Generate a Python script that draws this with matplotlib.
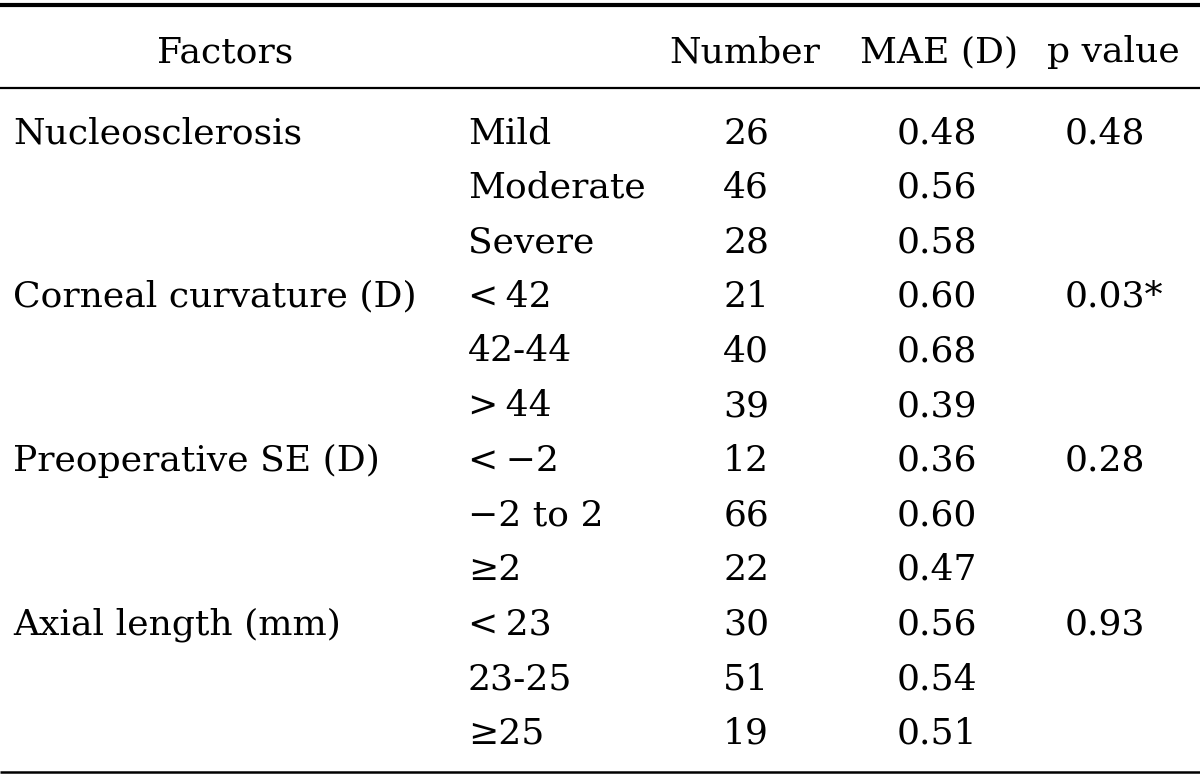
import matplotlib.pyplot as plt

# Table content
factors = ["Nucleosclerosis", "Corneal curvature (D)", "Preoperative SE (D)", "Axial length (mm)"]
levels = [["Mild", "Moderate", "Severe"],
          ["<\u200942", "42-44", ">\u200944"],
          ["<\u2009\u22122", "\u22122 to 2", "\u22652"],
          ["<\u200923", "23-25", "\u226525"]]
numbers = [[26, 46, 28], [21, 40, 39], [12, 66, 22], [30, 51, 19]]
mae = [[0.48, 0.56, 0.58], [0.60, 0.68, 0.39], [0.36, 0.60, 0.47], [0.56, 0.54, 0.51]]
p_values = ["0.48", "0.03*", "0.28", "0.93"]
headers = ["Factors", "Number", "MAE (D)", "p value"]

plt.rcParams['font.family'] = ['DejaVu Serif']
fs = 26

fig = plt.figure(figsize=(12, 7.79), dpi=100)
ax = fig.add_axes([0, 0, 1, 1])
ax.set_xlim(0, 1200)
ax.set_ylim(779, 0)
ax.axis('off')

# rules
ax.plot([0, 1200], [5, 5], color='black', linewidth=3.0, solid_capstyle='butt')
ax.plot([0, 1200], [87.5, 87.5], color='black', linewidth=1.6, solid_capstyle='butt')
ax.plot([0, 1200], [771.5, 771.5], color='black', linewidth=1.8, solid_capstyle='butt')

# header
hy = 62
ax.text(225, hy, headers[0], ha='center', va='baseline', fontsize=fs)
ax.text(745, hy, headers[1], ha='center', va='baseline', fontsize=fs)
ax.text(939, hy, headers[2], ha='center', va='baseline', fontsize=fs)
ax.text(1113, hy, headers[3], ha='center', va='baseline', fontsize=fs)

y0 = 143
dy = 54.6
row = 0
for i, f in enumerate(factors):
    ax.text(13, y0 + row * dy, f, ha='left', va='baseline', fontsize=fs)
    ax.text(1065, y0 + row * dy, p_values[i], ha='left', va='baseline', fontsize=fs)
    for j in range(3):
        y = y0 + row * dy
        ax.text(468, y, levels[i][j], ha='left', va='baseline', fontsize=fs)
        ax.text(746, y, str(numbers[i][j]), ha='center', va='baseline', fontsize=fs)
        ax.text(937, y, f"{mae[i][j]:.2f}", ha='center', va='baseline', fontsize=fs)
        row += 1

fig.savefig('out.png', dpi=100)
